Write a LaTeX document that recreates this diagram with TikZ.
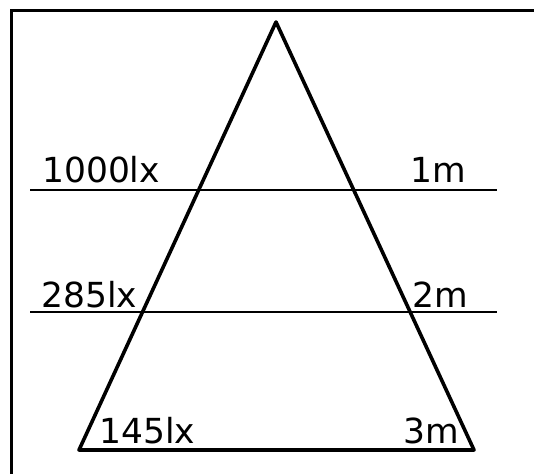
\documentclass[tikz,border=0pt]{standalone}
\usepackage{fontspec}
\setmainfont{DejaVu Sans}
\usepackage{tikz}
\usetikzlibrary{positioning}

\tikzset{
  lbl/.style={anchor=base west, inner sep=0pt, font=\fontsize{34.5}{40}\selectfont},
  levelline/.style={line width=2.4pt},
}

\begin{document}
\begin{tikzpicture}[x=1pt, y=-1pt]
        \useasboundingbox (0,0) rectangle (534,473);
        % frame, cut off at the right and bottom
        \draw[line width=3pt] (11,480) -- (11,11) -- (540,11);
        % triangle
        \coordinate (apex) at (276,22);
        \coordinate (baseL) at (79,450);
        \coordinate (baseR) at (474,450);
        \draw[line width=3.6pt, line join=round] (apex) -- (baseL) -- (baseR) -- cycle;
        % levels
        \draw[levelline] (30,190) -- (497,190);
        \draw[levelline] (30,312) -- (497,312);
        \node[lbl] (lux1) at (42,182) {1000lx};
        \node[lbl] (dist1) at (410,182) {1m};
        \node[lbl] (lux2) at (41,307) {285lx};
        \node[lbl] (dist2) at (412,307) {2m};
        \node[lbl] (lux3) at (99,443) {145lx};
        \node[lbl] (dist3) at (403,443) {3m};
      \end{tikzpicture}
\end{document}
